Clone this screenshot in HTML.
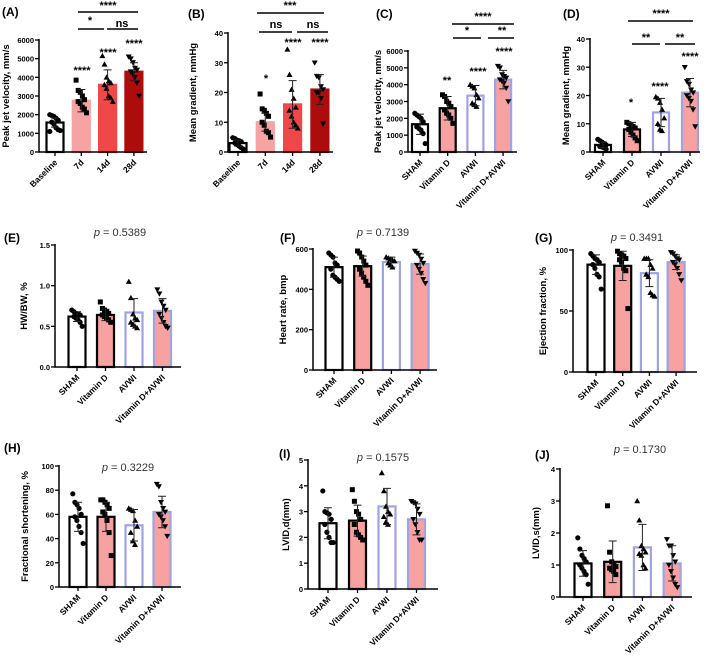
<!DOCTYPE html>
<html><head><meta charset="utf-8">
<style>
html,body{margin:0;padding:0;background:#fff;}
svg{display:block;font-family:"Liberation Sans",Arial,sans-serif;}
</style></head>
<body>
<svg id="fig" width="709" height="665" viewBox="0 0 709 665" xmlns="http://www.w3.org/2000/svg"></svg>
<script>
// ---------- DATA ----------
const catsTime = ["Baseline","7d","14d","28d"];
const catsGroup = ["SHAM","Vitamin D","AVWI","Vitamin D+AVWI"];

const aMeans = [1580,2750,3600,4300];
const aSD = [250,600,800,480];
const aPts = [[2000,1950,1900,1800,1700,1600,1500,1300,1200,1150,1100],[3850,3300,3200,3000,2800,2700,2600,2400,2300,2100],[5150,4700,4000,3800,3700,3600,3400,3000,2900,2700],[5100,5000,4800,4500,4400,4300,4200,4000,3700,3000]];
const aTicks = [0,1000,2000,3000,4000,5000,6000];

const bMeans = [3,10,16,21];
const bSD = [1,3,8,5];
const bPts = [[4.8,4.5,4,3.8,3.5,3,2.5,2,1.5,1],[19.5,14.5,14,13,12,10,9,7,6.5,5],[34.5,26,21,18,15,14,12,10,9,8],[30,25.5,25,22,21,20,20,18,9.5]];
const bTicks = [0,10,20,30,40];

const cMeans = [1650,2600,3350,4300];
const cSD = [600,700,600,550];
const cPts = [[2300,2200,2100,2000,1800,1500,1400,1300,1100,500],[3400,3300,3000,2900,2700,2500,2300,2200,2000,1700],[4000,3900,3800,3400,3200,2900,2800,2700],[5100,5000,4600,4500,4400,4300,4200,4100,3800,3000]];
const cTicks = [0,1000,2000,3000,4000,5000,6000];

const dMeans = [2.5,8,14,21];
const dSD = [1,2.5,5,5];
const dPts = [[4.5,4,3.5,3,2.5,2,1.8,1.5,1],[10.5,10,9.5,9,8.5,8,7,6,5,4],[19.5,19,17.5,15,12,10,8,7.5],[30,25,24,22,21,20,19,18,15,9]];
const dTicks = [0,10,20,30,40];

const eMeans = [0.62,0.64,0.67,0.69];
const eSD = [0.06,0.07,0.17,0.15];
const ePts = [[0.7,0.68,0.66,0.65,0.64,0.62,0.6,0.58,0.55,0.5],[0.8,0.72,0.7,0.68,0.66,0.64,0.62,0.6,0.58,0.55],[1.05,0.85,0.65,0.6,0.58,0.55,0.52,0.5,0.48],[0.95,0.9,0.8,0.75,0.7,0.65,0.6,0.55,0.5,0.48]];
const eTicks = ["0.0","0.5","1.0","1.5"];

const fMeans = [510,515,535,525];
const fSD = [50,50,25,50];
const fPts = [[580,570,560,530,520,500,470,460,450,440],[590,580,560,540,520,500,480,460,440,420],[560,555,550,545,540,530,520,510],[590,580,570,550,530,520,500,480,450,430]];
const fTicks = [0,200,400,600];

const gMeans = [88,87,81,90];
const gSD = [8,12,11,6];
const gPts = [[97,95,93,92,90,88,85,80,78,68],[99,97,96,95,93,92,90,85,83,52],[93,93,93,88,85,80,78,65,63,62],[98,97,95,93,92,90,88,85,80,75]];
const gTicks = [0,50,100];

const hMeans = [58,58,51,62];
const hSD = [12,12,13,13];
const hPts = [[77,70,68,65,60,58,55,50,45,36],[72,72,70,68,65,62,60,55,45,26],[65,64,63,55,50,45,38,35],[85,83,70,65,62,60,58,55,50,42]];
const hTicks = [0,20,40,60,80,100];

const iMeans = [2.55,2.65,3.2,2.7];
const iSD = [0.6,0.6,0.7,0.6];
const iPts = [[3.8,3,2.95,2.9,2.7,2.5,2.2,2,1.8,1.8],[3.85,3.4,3,2.9,2.7,2.5,2.2,2.1,2,1.9],[4.5,3.8,3.2,3.0,2.9,2.8,2.6,2.5],[3.4,3.35,3.3,3.1,2.9,2.7,2.5,2.2,1.9,1.9]];
const iTicks = [0,1,2,3,4,5];

const jMeans = [1.05,1.1,1.55,1.05];
const jSD = [0.4,0.65,0.72,0.55];
const jPts = [[1.85,1.5,1.3,1.2,1.1,1,0.9,0.8,0.7,0.4],[2.85,1.4,1.1,1,0.95,0.9,0.85,0.8,0.7],[3,2.4,1.6,1.5,1.4,1.35,1.3,1.0,0.9],[1.8,1.6,1.6,1.3,1.1,1.0,0.8,0.6,0.4,0.3]];
const jTicks = [0,1,2,3,4];

// ---------- RENDER ----------
const NS = "http://www.w3.org/2000/svg";
const svg = document.getElementById("fig");
function mk(tag, attrs, parent, txt){
  const e = document.createElementNS(NS, tag);
  for (const k in attrs) e.setAttribute(k, attrs[k]);
  if (txt !== undefined) e.textContent = txt;
  (parent || svg).appendChild(e);
  return e;
}
const styleTime = [{fill:"#fff",stroke:"#000"},{fill:"#f5a3a3",stroke:"#f5a3a3"},{fill:"#f04848",stroke:"#f04848"},{fill:"#ad0c0c",stroke:"#ad0c0c"}];
const styleGroup = [{fill:"#fff",stroke:"#000"},{fill:"#f7a1a1",stroke:"#000"},{fill:"#fff",stroke:"#9ea3e2"},{fill:"#f7a1a1",stroke:"#9ea3e2"}];
const markers = ["circle","square","tri","tridown"];

function marker(g, type, x, y){
  let m;
  if (type==="circle") m = mk("circle",{cx:x,cy:y,r:2.6,fill:"#000"},g);
  else if (type==="square") m = mk("rect",{x:x-2.5,y:y-2.5,width:5,height:5,fill:"#000"},g);
  else if (type==="tri") m = mk("polygon",{points:`${x},${y-3} ${x-3},${y+2.3} ${x+3},${y+2.3}`,fill:"#000"},g);
  else m = mk("polygon",{points:`${x},${y+3} ${x-3},${y-2.3} ${x+3},${y-2.3}`,fill:"#000"},g);
  
  
}

function panel(cfg){
  const g = mk("g",{});
  
  
  const tickVals = cfg.ticks.map(Number);
  const ymax = tickVals[tickVals.length-1];
  const ys = v => cfg.y0 - (v/ymax)*(cfg.y0-cfg.ytop);
  const xs = i => cfg.c0 + i*cfg.dx;
  const lab = mk("text",{x:cfg.lx,y:cfg.ly,"font-size":12,"font-weight":"bold"},g,"("+cfg.id+")");
  
  
  for (let i=0;i<cfg.means.length;i++){
    const st = cfg.styles[i];
    const bw = cfg.bw, x = xs(i);
    const top = ys(cfg.means[i]);
    const r = mk("rect",{x:x-bw/2+1,y:top,width:bw-2,height:cfg.y0-top,fill:st.fill,stroke:st.stroke,"stroke-width":2.2},g);
    
    
    const pts = cfg.pts[i];
    for (let k=0;k<pts.length;k++){
      const off = ((k%5)-2)*2.1 + (Math.floor(k/5)%2 ? 1 : -1);
      marker(g, markers[i], x+off, ys(pts[k]));
    }
    const e1 = ys(cfg.means[i]+cfg.sd[i]), e2 = ys(Math.max(0,cfg.means[i]-cfg.sd[i]));
    const eb = mk("path",{d:`M${x},${e1}V${e2}M${x-4},${e1}H${x+4}M${x-4},${e2}H${x+4}`,stroke:"#222","stroke-width":1},g);
    
    
    mk("line",{x1:x,y1:cfg.y0,x2:x,y2:cfg.y0+4,stroke:"#000","stroke-width":1.3},g);
    const t = mk("text",{x:x+3,y:cfg.y0+11,"font-size":8.5,"font-weight":"bold","text-anchor":"end",transform:`rotate(-45 ${x+3} ${cfg.y0+11})`},g,cfg.cats[i]);
    
    
  }
  const ax = mk("path",{d:`M${cfg.ax},${cfg.ytop-1}V${cfg.y0}H${cfg.xend}`,stroke:"#000","stroke-width":1.5,fill:"none"},g);
  
  
  for (let k=0;k<cfg.ticks.length;k++){
    const y = ys(tickVals[k]);
    mk("line",{x1:cfg.ax-4,y1:y,x2:cfg.ax,y2:y,stroke:"#000","stroke-width":1.3},g);
    const t = mk("text",{x:cfg.ax-5,y:y+3,"font-size":7.5,"font-weight":"bold","text-anchor":"end"},g,String(cfg.ticks[k]));
    
    
  }
  const my = (cfg.y0+cfg.ytop)/2;
  const yt = mk("text",{x:cfg.yx,y:my,"font-size":9.5,"font-weight":"bold","text-anchor":"middle",transform:`rotate(-90 ${cfg.yx} ${my})`},g,cfg.ytitle);
  
  
  if (cfg.p){
    const pt = mk("text",{x:cfg.p[0],y:cfg.p[1],"font-size":11,"text-anchor":"middle",fill:"#333"},g);
    
    
    mk("tspan",{"font-style":"italic"},pt,"p");
    mk("tspan",{},pt," = "+cfg.p[2]);
  }
  if (cfg.sig){
    cfg.sig.forEach(s=>{
      const t = mk("text",{x:s[0],y:s[1],"font-size":11,"text-anchor":"middle","font-weight":"bold"},g,s[2]);
      
      
    });
  }
  if (cfg.lines){
    cfg.lines.forEach(l=>{
      const ln = mk("line",{x1:l[0],y1:l[2],x2:l[1],y2:l[2],stroke:"#000","stroke-width":1.6},g);
      
      
    });
  }
}

panel({id:"A",cats:catsTime,styles:styleTime,means:aMeans,sd:aSD,pts:aPts,ticks:aTicks,ax:39,y0:152,ytop:40,xend:147,c0:55,dx:26.3,bw:19,lx:2,ly:16,yx:9,ytitle:"Peak jet velocity, mm/s",
  sig:[[108,9,"****"],[90,24,"*"],[122,27,"ns"],[82,74,"****"],[108,56,"****"],[134,47,"****"]],
  lines:[[78,138,12],[78,104,29],[107,138,29]]});
panel({id:"B",cats:catsTime,styles:styleTime,means:bMeans,sd:bSD,pts:bPts,ticks:bTicks,ax:228,y0:152,ytop:33,xend:333,c0:238,dx:27.3,bw:19,lx:188,ly:18,yx:196,ytitle:"Mean gradient, mmHg",
  sig:[[290,9,"***"],[276,28,"ns"],[313,28,"ns"],[266,82,"*"],[293,46,"****"],[320,46,"****"]],
  lines:[[257,324,13],[259,292,32],[297,328,32]]});
panel({id:"C",cats:catsGroup,styles:styleGroup,means:cMeans,sd:cSD,pts:cPts,ticks:cTicks,ax:408,y0:152,ytop:51,xend:517,c0:420,dx:27.7,bw:18,lx:376,ly:18,yx:381,ytitle:"Peak jet velocity, mm/s",
  sig:[[483,20,"****"],[467,34,"*"],[502,34,"**"],[447,84,"**"],[478,75,"****"],[504,55,"****"]],
  lines:[[452,514,24],[453,481,38],[488,514,38]]});
panel({id:"D",cats:catsGroup,styles:styleGroup,means:dMeans,sd:dSD,pts:dPts,ticks:dTicks,ax:590,y0:152,ytop:39,xend:700,c0:603,dx:29,bw:18,lx:563,ly:18,yx:569,ytitle:"Mean gradient, mmHg",
  sig:[[661,17,"****"],[646,41,"**"],[680,41,"**"],[631,106,"*"],[660,90,"****"],[690,60,"****"]],
  lines:[[628,693,21],[632,660,44],[665,695,44]]});
panel({id:"E",cats:catsGroup,styles:styleGroup,means:eMeans,sd:eSD,pts:ePts,ticks:eTicks,ax:55,y0:367,ytop:245,xend:181,c0:77,dx:28.5,bw:19,lx:4,ly:242,yx:27,ytitle:"HW/BW, %",p:[120,236,"0.5389"]});
panel({id:"F",cats:catsGroup,styles:styleGroup,means:fMeans,sd:fSD,pts:fPts,ticks:fTicks,ax:313,y0:370,ytop:249,xend:437,c0:334,dx:28.7,bw:19,lx:280,ly:242,yx:286,ytitle:"Heart rate, bmp",p:[383,236,"0.7139"]});
panel({id:"G",cats:catsGroup,styles:styleGroup,means:gMeans,sd:gSD,pts:gPts,ticks:gTicks,ax:573,y0:372,ytop:250,xend:697,c0:596,dx:26.7,bw:19,lx:535,ly:242,yx:546,ytitle:"Ejection fraction, %",p:[637,241,"0.3491"]});
panel({id:"H",cats:catsGroup,styles:styleGroup,means:hMeans,sd:hSD,pts:hPts,ticks:hTicks,ax:59,y0:587,ytop:466,xend:181,c0:78,dx:28,bw:19,lx:4,ly:452,yx:28,ytitle:"Fractional shortening, %",p:[128,471,"0.3229"]});
panel({id:"I",cats:catsGroup,styles:styleGroup,means:iMeans,sd:iSD,pts:iPts,ticks:iTicks,ax:308,y0:589,ytop:460,xend:438,c0:328,dx:29.5,bw:19,lx:279,ly:458,yx:289,ytitle:"LVID,d(mm)",p:[383,461,"0.1575"]});
panel({id:"J",cats:catsGroup,styles:styleGroup,means:jMeans,sd:jSD,pts:jPts,ticks:jTicks,ax:560,y0:597,ytop:469,xend:692,c0:583,dx:29.7,bw:19,lx:535,ly:459,yx:539,ytitle:"LVID,s(mm)",p:[640,453,"0.1730"]});
</script>
</body></html>
